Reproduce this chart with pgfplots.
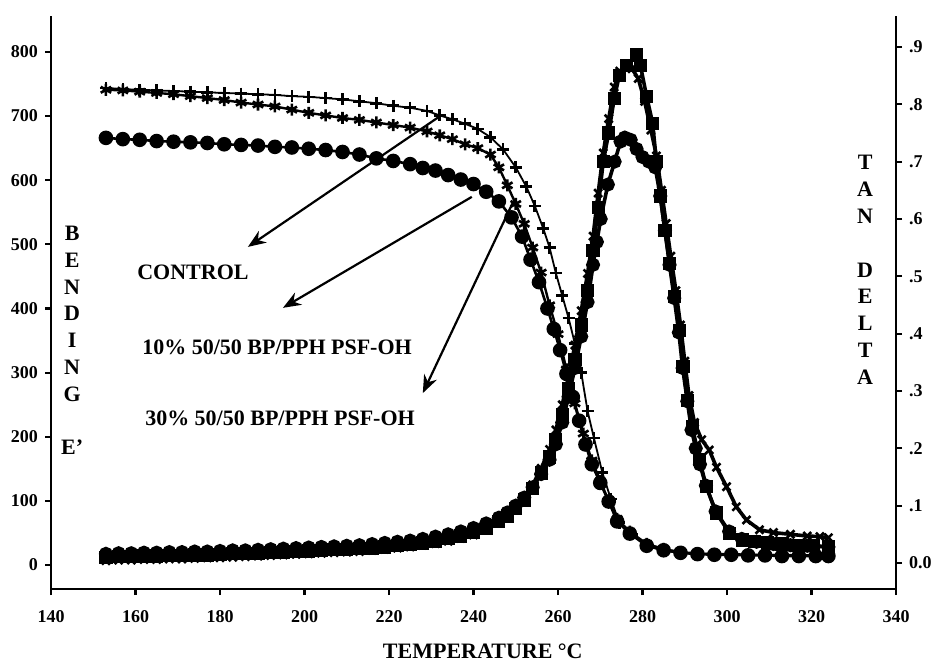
\documentclass[border=0pt]{standalone}
\usepackage{fontspec}
\setmainfont{Liberation Serif}
\usepackage{pgfplots}
\usepackage{pgfplotstable}
\pgfplotsset{compat=1.18}
\usetikzlibrary{arrows.meta}

% Bending E' (left axis)
\pgfplotstableread{
T E
153 744
157 742
161 741
165 740
169 739
173 738
177 737
181 736
185 735
189 734
193 733
197 731
201 730
205 728
209 726
213 723
217 720
221 716
225 713
229 708
232 701
235 695
238 688
241 680
244 667
247 648
250 620
252.5 590
254.5 560
256.5 525
258 495
259.5 455
261 420
262.5 385
264 345
265.5 300
267 240
268.5 198
270.5 144
272.5 103
274.5 66
277.5 48
281 30
285 23
289 19
293 18
297 17
301 17
305 16
309 16
313 16
317 16
321 15
324 15
}\ectrl

\pgfplotstableread{
T E
153 741
157 740
161 738
165 736
169 734
173 731
177 728
181 725
185 721
189 718
193 715
197 710
201 705
205 701
209 697
213 694
217 690
221 686
225 682
229 676
232 670
235 664
238 656
241 650
244 640
246 620
248 592
250 563
252 532
254 495
256 456
258 405
260 360
262 305
264 252
266 205
268 163
270 131
272 100
274 72
277 52
281 33
285 25
289 20
293 18
297 17
301 17
305 16
309 16
313 15
317 15
321 15
324 15
}\eten

\pgfplotstableread{
T E
153 666
157 664
161 663
165 661
169 660
173 659
177 658
181 656
185 655
189 654
193 652
197 651
201 649
205 647
209 644
213 640
217 634
221 630
225 625
228 619
231 615
234 608
237 601
240 594
243 582
246 567
249 542
251.5 512
253.5 476
255.5 441
257.5 400
259 368
260.5 335
262 298
263.5 262
265 225
266.5 188
268 157
270 128
272 99
274 68
277 49
281 30
285 23
289 19
293 17
297 16
301 16
305 15
309 15
313 14
317 14
321 14
324 14
}\ethirty

% Tan delta (right axis)
\pgfplotstableread{
T D
153 0.010
156 0.011
159 0.011
162 0.012
165 0.012
168 0.013
171 0.013
174 0.014
177 0.014
180 0.015
183 0.016
186 0.016
189 0.017
192 0.018
195 0.019
198 0.020
201 0.021
204 0.022
207 0.023
210 0.024
213 0.025
216 0.026
219 0.028
222 0.030
225 0.032
228 0.035
231 0.038
234 0.042
237 0.047
240 0.053
243 0.061
246 0.072
248 0.082
250 0.095
252 0.110
254 0.130
256 0.157
258 0.185
259.5 0.215
261 0.258
262.5 0.305
264 0.355
265.5 0.415
267 0.475
268.3 0.545
269.5 0.620
270.7 0.700
272 0.750
273.3 0.810
274.5 0.850
276.3 0.868
278.6 0.886
279.5 0.868
281 0.813
282.4 0.767
283.3 0.700
284.2 0.640
285.3 0.580
286.4 0.523
287.6 0.465
288.8 0.406
289.6 0.342
290.7 0.284
291.8 0.237
293.5 0.180
295.1 0.133
297.5 0.087
300.6 0.052
303.6 0.040
306.5 0.037
309.5 0.035
313 0.033
317 0.031
320.5 0.030
324 0.028
}\tda

\pgfplotstableread{
T D
153 0.004
156 0.005
159 0.005
162 0.006
165 0.006
168 0.007
171 0.007
174 0.008
177 0.009
180 0.009
183 0.010
186 0.011
189 0.012
192 0.013
195 0.014
198 0.015
201 0.016
204 0.017
207 0.018
210 0.019
213 0.020
216 0.022
219 0.024
222 0.026
225 0.028
228 0.031
231 0.034
234 0.038
237 0.043
240 0.049
243 0.058
246 0.070
248 0.081
250 0.095
252 0.113
254 0.136
256 0.165
258 0.198
259.5 0.232
261 0.276
262.5 0.326
264 0.380
265.5 0.440
267 0.505
268.3 0.570
269.5 0.645
270.7 0.715
272 0.775
273.3 0.830
274.6 0.858
276 0.866
277.5 0.862
279 0.845
280.5 0.805
282 0.755
283.3 0.710
284.5 0.650
285.6 0.592
286.7 0.535
287.9 0.475
289 0.415
290 0.352
291 0.292
292.3 0.245
294 0.215
295.8 0.197
297.5 0.167
299.9 0.133
302.2 0.098
304.6 0.075
307.7 0.058
311 0.053
315 0.050
319 0.047
322 0.046
324 0.044
}\tdb

\pgfplotstableread{
T D
153 0.016
156 0.017
159 0.017
162 0.018
165 0.018
168 0.019
171 0.019
174 0.020
177 0.020
180 0.021
183 0.022
186 0.022
189 0.023
192 0.024
195 0.025
198 0.026
201 0.027
204 0.028
207 0.029
210 0.030
213 0.031
216 0.033
219 0.035
222 0.037
225 0.039
228 0.042
231 0.046
234 0.050
237 0.055
240 0.061
243 0.069
246 0.079
248 0.088
250 0.100
252 0.114
254 0.132
256 0.155
258 0.180
259.5 0.207
261 0.245
262.5 0.290
264 0.340
265.5 0.395
267 0.455
268.3 0.520
269.2 0.560
270.1 0.600
271.8 0.660
273.4 0.700
274.8 0.735
275.8 0.742
277.2 0.738
278.6 0.722
280 0.708
281.5 0.700
283 0.690
284.2 0.640
285.3 0.580
286.4 0.520
287.5 0.462
288.6 0.402
289.5 0.340
290.6 0.282
291.6 0.232
292.6 0.200
293.6 0.172
295 0.135
297.3 0.090
300.5 0.055
303.5 0.042
307 0.037
311 0.033
315 0.031
319 0.030
324 0.028
}\tdc

\begin{document}
\begin{tikzpicture}
\pgfplotsset{
  base/.style={
    scale only axis, width=422.5pt, height=286.5pt,
    at={(0,0)}, anchor=south west,
    xmin=140, xmax=340,
    axis line style={line width=1.3pt, black},
    tick style={line width=1.1pt, black},
    major tick length=3pt,
    tick align=outside,
    tick label style={font=\bfseries\fontsize{9}{10}\selectfont},
    /pgf/number format/assume math mode=true,
  }
}
\begin{axis}[base,
  axis x line*=bottom, axis y line*=left,
  ymin=-37.4, ymax=856,
  ytick={0,100,200,300,400,500,600,700,800},
  xtick={140,160,180,200,220,240,260,280,300,320,340},
  xticklabel style={yshift=-4pt},
  clip=false]
\addplot[black, line width=0.9pt, mark=+, mark size=3pt, mark options={line width=1.3pt}] table[x=T,y=E] {\ectrl};
\addplot[black, line width=1.2pt, mark=asterisk, mark size=3pt, mark options={line width=1.3pt}] table[x=T,y=E] {\eten};
\addplot[black, line width=1.3pt, mark=*, mark size=3pt] table[x=T,y=E] {\ethirty};

\draw[line width=1.1pt, -{Stealth[length=9pt,width=7pt]}] (axis cs:232.1,700) -- (axis cs:186.6,496);
\draw[line width=1.1pt, -{Stealth[length=9pt,width=7pt]}] (axis cs:239.6,574) -- (axis cs:194.9,401);
\draw[line width=1.1pt, -{Stealth[length=9pt,width=7pt]}] (axis cs:249.3,565) -- (axis cs:228,268);

\node[font=\bfseries\fontsize{11}{13}\selectfont] at (axis cs:173.6,457) {CONTROL};
\node[font=\bfseries\fontsize{11}{13}\selectfont] at (axis cs:193.5,340) {10\% 50/50 BP/PPH PSF-OH};
\node[font=\bfseries\fontsize{11}{13}\selectfont] at (axis cs:194.2,229) {30\% 50/50 BP/PPH PSF-OH};

\node[font=\bfseries\fontsize{11}{13.4}\selectfont, align=center, inner sep=0pt] at (axis cs:145,350) {B\\E\\N\\D\\I\\N\\G\\[13.4pt]E'};
\node[font=\bfseries\fontsize{11}{13.4}\selectfont, align=center, inner sep=0pt] at (axis cs:332.7,460) {T\\A\\N\\[13.4pt]D\\E\\L\\T\\A};

\node[font=\bfseries\fontsize{11}{13}\selectfont] at (axis cs:242.2,-134) {TEMPERATURE °C};
\end{axis}
\begin{axis}[base,
  axis x line=none, axis y line*=right,
  ymin=-0.0454, ymax=0.954,
  ytick={0,0.1,0.2,0.3,0.4,0.5,0.6,0.7,0.8,0.9},
  yticklabels={0.0,.1,.2,.3,.4,.5,.6,.7,.8,.9}]
\addplot[black, line width=1.8pt, mark=square*, mark size=2.4pt] table[x=T,y=D] {\tda};
\addplot[black, line width=1.8pt, mark=x, mark size=2.8pt, mark options={line width=1.3pt}] table[x=T,y=D] {\tdb};
\addplot[black, line width=1.8pt, mark=*, mark size=2.6pt] table[x=T,y=D] {\tdc};
\end{axis}
\pgfresetboundingbox
\path[use as bounding box] (-25.5pt,-37pt) rectangle (442pt,294.5pt);
\end{tikzpicture}
\end{document}
